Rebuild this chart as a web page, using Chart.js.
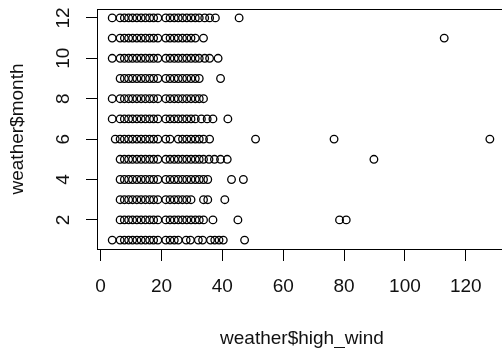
<!DOCTYPE html>
<html>
<head>
<meta charset="utf-8">
<title>weather$high_wind vs weather$month</title>
<script src="https://cdn.jsdelivr.net/npm/chart.js@4/dist/chart.umd.min.js"></script>
<style>
  html, body { margin: 0; padding: 0; background: #fff; overflow: hidden; }
  #wrap { width: 512px; height: 348px; }
</style>
</head>
<body>
<div id="wrap"><canvas id="chart" width="512" height="348"></canvas></div>
<script>
// ── Data: high wind readings per month ────────────────────────

const windJan = [3.8, 6.4, 7.8, 9.2, 10.5, 11.9, 13.3, 14.7, 16.1, 17.4, 18.8, 21.4, 22.8, 24.2, 25.5, 28.1, 29.5, 32.1, 33.5, 36.1, 37.5, 38.9, 40.3, 47.3];
const windFeb = [6.4, 7.8, 9.2, 10.5, 11.9, 13.3, 14.7, 16.1, 17.4, 18.8, 21.4, 22.8, 24.2, 25.5, 26.9, 28.3, 29.7, 31.1, 32.4, 33.8, 36.9, 45.1, 78.5, 80.7];
const windMar = [6.4, 7.8, 9.2, 10.5, 11.9, 13.3, 14.7, 16.1, 17.4, 18.8, 21.4, 22.8, 24.2, 25.5, 26.9, 28.3, 29.7, 33.8, 35.2, 40.8];
const windApr = [6.4, 7.8, 9.2, 10.5, 11.9, 13.3, 14.7, 16.1, 17.4, 18.8, 21.4, 22.8, 24.2, 25.5, 26.9, 28.3, 29.7, 31.1, 32.4, 33.8, 35.2, 43.0, 46.9];
const windMay = [6.4, 7.8, 9.2, 10.5, 11.9, 13.3, 14.7, 16.1, 17.4, 18.8, 21.4, 22.8, 24.2, 25.5, 26.9, 28.3, 29.7, 31.1, 32.4, 33.8, 35.6, 37.4, 39.4, 41.6, 89.8];
const windJun = [4.8, 6.4, 7.8, 9.2, 10.5, 11.9, 13.3, 14.7, 16.1, 17.4, 18.8, 21.4, 22.8, 25.5, 26.9, 28.3, 29.7, 31.1, 32.4, 33.8, 35.8, 50.9, 76.7, 127.9];
const windJul = [3.8, 6.4, 7.8, 9.2, 10.5, 11.9, 13.3, 14.7, 16.1, 17.4, 18.8, 21.4, 22.8, 24.2, 25.5, 26.9, 28.3, 29.7, 31.1, 33.1, 35.0, 36.9, 41.8];
const windAug = [3.8, 6.4, 7.8, 9.2, 10.5, 11.9, 13.3, 14.7, 16.1, 17.4, 18.8, 21.4, 22.8, 24.2, 25.5, 26.9, 28.3, 29.7, 31.1, 32.4, 33.8];
const windSep = [6.4, 7.8, 9.2, 10.5, 11.9, 13.3, 14.7, 16.1, 17.4, 18.8, 21.4, 22.8, 24.2, 25.5, 26.9, 28.3, 29.7, 31.1, 32.4, 39.4];
const windOct = [3.8, 6.4, 7.8, 9.2, 10.5, 11.9, 13.3, 14.7, 16.1, 17.4, 18.8, 21.4, 22.8, 24.2, 25.5, 26.9, 28.3, 29.7, 31.1, 32.4, 34.2, 35.8, 38.6];
const windNov = [3.8, 6.4, 7.8, 9.2, 10.5, 11.9, 13.3, 14.7, 16.1, 17.4, 18.8, 21.4, 22.8, 24.2, 25.5, 26.9, 28.3, 29.7, 31.1, 33.8, 112.9];
const windDec = [3.8, 6.4, 7.8, 9.2, 10.5, 11.9, 13.3, 14.7, 16.1, 17.4, 18.8, 21.4, 22.8, 24.2, 25.5, 26.9, 28.3, 29.7, 31.1, 32.4, 34.2, 35.8, 37.7, 45.5];

const monthNumbers = [1, 2, 3, 4, 5, 6, 7, 8, 9, 10, 11, 12];
const xTickValues  = [0, 20, 40, 60, 80, 100, 120];
const yTickValues  = [2, 4, 6, 8, 10, 12];
const xTitle = "weather$high_wind";
const yTitle = "weather$month";

(() => {
  "use strict";

  const FONT = "'Liberation Sans', Arial, sans-serif";
  const INK  = "#111";

  const windByMonth = [windJan, windFeb, windMar, windApr, windMay, windJun,
                       windJul, windAug, windSep, windOct, windNov, windDec];

  const points = [];
  windByMonth.forEach((list, i) => {
    list.forEach(v => points.push({ x: v, y: monthNumbers[i] }));
  });

  // ── Plugins ───────────────────────────────────────────────────

  // R-style box round the plot region
  const boxPlugin = {
    id: "box",
    afterDraw(chart) {
      const { ctx, chartArea: a } = chart;
      ctx.save();
      ctx.strokeStyle = "#000";
      ctx.lineWidth = 1;
      ctx.strokeRect(Math.round(a.left) + 0.5, Math.round(a.top) + 0.5,
                     Math.round(a.right - a.left), Math.round(a.bottom - a.top));
      ctx.restore();
    },
  };

  // y tick labels run parallel to the axis, as R draws them
  const yLabelPlugin = {
    id: "yLabels",
    afterDraw(chart) {
      const { ctx } = chart;
      const y = chart.scales.y;
      ctx.save();
      ctx.fillStyle = INK;
      ctx.font = "19px " + FONT;
      ctx.textAlign = "center";
      ctx.textBaseline = "middle";
      yTickValues.forEach(v => {
        ctx.save();
        ctx.translate(63.5, y.getPixelForValue(v));
        ctx.rotate(-Math.PI / 2);
        ctx.fillText(String(v), 0, 0);
        ctx.restore();
      });
      ctx.restore();
    },
  };

  // ── Chart ─────────────────────────────────────────────────────

  new Chart(document.getElementById("chart"), {
    type: "scatter",
    data: {
      datasets: [{
        data: points,
        pointStyle: "circle",
        pointRadius: 3.8,
        pointHoverRadius: 3.8,
        borderWidth: 1.3,
        borderColor: "#000",
        backgroundColor: "rgba(0,0,0,0)",
      }],
    },
    options: {
      responsive: false,
      animation: false,
      events: [],
      layout: { padding: { top: 9, right: 4, left: 0, bottom: 0 } },
      plugins: { legend: { display: false }, tooltip: { enabled: false } },
      scales: {
        x: {
          type: "linear",
          min: -1.2,
          max: 133.5,
          afterBuildTicks: s => { s.ticks = xTickValues.map(v => ({ value: v })); },
          afterFit: s => { s.height = 99; },
          grid: { drawOnChartArea: false, drawTicks: true, tickLength: 12, color: "#000" },
          border: { display: true, color: "#000" },
          ticks: {
            color: INK,
            padding: 16,
            maxRotation: 0,
            font: { family: FONT, size: 19, lineHeight: 1 },
          },
          title: {
            display: true,
            text: xTitle,
            color: INK,
            padding: { top: 0, bottom: 0 },
            font: { family: FONT, size: 19, lineHeight: 1 },
          },
        },
        y: {
          type: "linear",
          min: 0.56,
          max: 12.44,
          afterBuildTicks: s => { s.ticks = yTickValues.map(v => ({ value: v })); },
          afterFit: s => { s.width = 97; },
          grid: { drawOnChartArea: false, drawTicks: true, tickLength: 11, color: "#000" },
          border: { display: true, color: "#000" },
          ticks: { display: false },
          title: {
            display: true,
            text: yTitle,
            color: INK,
            padding: { top: 8.5, bottom: 0 },
            font: { family: FONT, size: 19, lineHeight: 1 },
          },
        },
      },
    },
    plugins: [boxPlugin, yLabelPlugin],
  });
})();
</script>
</body>
</html>
